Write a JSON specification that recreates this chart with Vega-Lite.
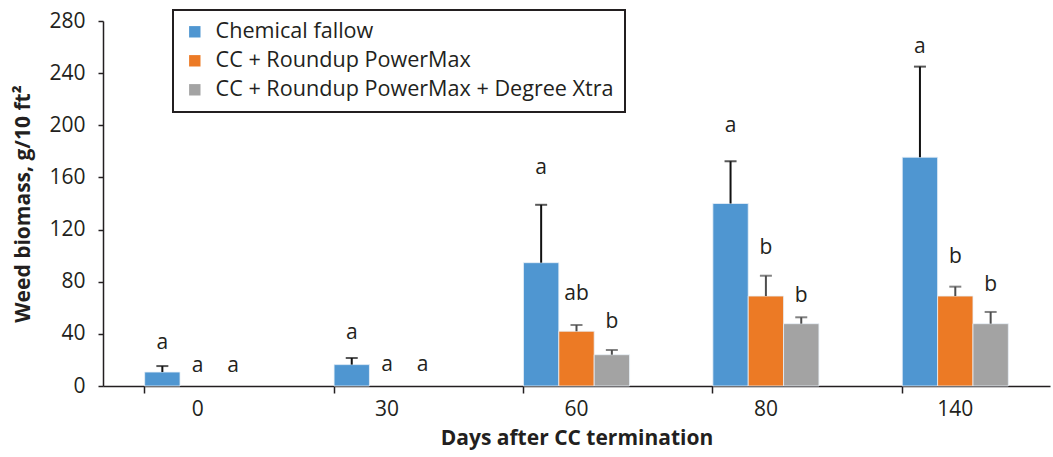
{
  "$schema": "https://vega.github.io/schema/vega-lite/v6.json",
  "autosize": "none",
  "width": 947,
  "height": 365,
  "padding": {"left": 103, "top": 21, "right": 3, "bottom": 71},
  "background": "white",
  "config": {
    "font": "Open Sans",
    "view": {"stroke": null},
    "legend": {"strokeWidth": 2},
    "axis": {"labelFont": "Open Sans", "titleFont": "Open Sans", "labelColor": "#231f20", "titleColor": "#231f20", "domainColor": "#231f20", "tickColor": "#231f20", "domainWidth": 1.5, "tickWidth": 1.5}
  },
  "data": {
    "values": [
      {"day": "0", "series": "Chemical fallow", "biomass": 10.7, "err": 15.3, "letter": "a", "letter_y": 32.7},
      {"day": "0", "series": "CC + Roundup PowerMax", "biomass": 0, "err": null, "letter": "a", "letter_y": 15.3},
      {"day": "0", "series": "CC + Roundup PowerMax + Degree Xtra", "biomass": 0, "err": null, "letter": "a", "letter_y": 15.3},
      {"day": "30", "series": "Chemical fallow", "biomass": 16.4, "err": 21.5, "letter": "a", "letter_y": 40.9},
      {"day": "30", "series": "CC + Roundup PowerMax", "biomass": 0, "err": null, "letter": "a", "letter_y": 16},
      {"day": "30", "series": "CC + Roundup PowerMax + Degree Xtra", "biomass": 0, "err": null, "letter": "a", "letter_y": 16},
      {"day": "60", "series": "Chemical fallow", "biomass": 94.6, "err": 139, "letter": "a", "letter_y": 167},
      {"day": "60", "series": "CC + Roundup PowerMax", "biomass": 42, "err": 46.8, "letter": "ab", "letter_y": 70.6},
      {"day": "60", "series": "CC + Roundup PowerMax + Degree Xtra", "biomass": 24, "err": 27.6, "letter": "b", "letter_y": 49},
      {"day": "80", "series": "Chemical fallow", "biomass": 140, "err": 172.4, "letter": "a", "letter_y": 199.4},
      {"day": "80", "series": "CC + Roundup PowerMax", "biomass": 69, "err": 84.6, "letter": "b", "letter_y": 106},
      {"day": "80", "series": "CC + Roundup PowerMax + Degree Xtra", "biomass": 47.8, "err": 52.7, "letter": "b", "letter_y": 69.3},
      {"day": "140", "series": "Chemical fallow", "biomass": 175.5, "err": 245, "letter": "a", "letter_y": 260},
      {"day": "140", "series": "CC + Roundup PowerMax", "biomass": 69, "err": 76.2, "letter": "b", "letter_y": 98.7},
      {"day": "140", "series": "CC + Roundup PowerMax + Degree Xtra", "biomass": 47.8, "err": 56.8, "letter": "b", "letter_y": 77.5}
    ]
  },
  "encoding": {
    "x": {
      "field": "day", "type": "ordinal", "sort": ["0", "30", "60", "80", "140"],
      "scale": {"paddingInner": 0.44, "paddingOuter": 0.22},
      "axis": {"title": "Days after CC termination", "titleFontSize": 21, "titleFontWeight": "bold", "titlePadding": 8, "labelFontSize": 21, "labelAngle": 0, "labelPadding": 5, "tickSize": 7, "bandPosition": 0, "grid": false}
    },
    "xOffset": {"field": "series", "type": "nominal", "sort": ["Chemical fallow", "CC + Roundup PowerMax", "CC + Roundup PowerMax + Degree Xtra"], "scale": {"paddingInner": 0, "paddingOuter": 0}}
  },
  "layer": [
    {
      "transform": [{"filter": "datum.biomass > 0"}],
      "mark": {"type": "bar", "stroke": "#e8f0f8", "strokeWidth": 0.8},
      "encoding": {
        "y": {
          "field": "biomass", "type": "quantitative",
          "scale": {"domain": [0, 280], "nice": false},
          "axis": {"title": "Weed biomass, g/10 ft²", "titleFontSize": 21, "titleFontWeight": "bold", "titlePadding": 15, "labelFontSize": 21, "labelPadding": 13, "tickSize": 5, "values": [0, 40, 80, 120, 160, 200, 240, 280], "grid": false}
        },
        "color": {
          "field": "series", "type": "nominal",
          "sort": ["Chemical fallow", "CC + Roundup PowerMax", "CC + Roundup PowerMax + Degree Xtra"],
          "scale": {"range": ["#4f96d1", "#ec7a25", "#a3a3a3"]},
          "legend": {
            "title": null, "orient": "none", "legendX": 70, "legendY": -11,
            "strokeColor": "#231f20", "padding": 11,
            "symbolType": "square", "symbolSize": 130, "symbolStrokeWidth": 0,
            "labelFontSize": 21.6, "labelColor": "#231f20", "labelFont": "Open Sans",
            "rowPadding": 6, "labelOffset": 10, "labelLimit": 500
          }
        }
      }
    },
    {
      "transform": [{"filter": "datum.err != null"}],
      "mark": {"type": "rule", "strokeWidth": 2},
      "encoding": {
        "y": {"field": "biomass", "type": "quantitative"},
        "y2": {"field": "err"},
        "color": {"condition": {"test": "datum.series === 'Chemical fallow'", "value": "#111111"}, "value": "#4d4d4d"}
      }
    },
    {
      "transform": [{"filter": "datum.err != null"}],
      "mark": {"type": "tick", "thickness": 2, "size": 12},
      "encoding": {
        "y": {"field": "err", "type": "quantitative"},
        "color": {"condition": {"test": "datum.series === 'Chemical fallow'", "value": "#111111"}, "value": "#4d4d4d"}
      }
    },
    {
      "mark": {"type": "text", "fontSize": 21, "color": "#231f20", "baseline": "middle", "font": "Open Sans"},
      "encoding": {
        "y": {"field": "letter_y", "type": "quantitative"},
        "text": {"field": "letter"}
      }
    }
  ]
}
